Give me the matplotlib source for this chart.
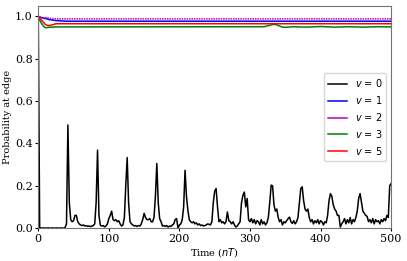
import numpy as np
import matplotlib
matplotlib.use("Agg")
import matplotlib.pyplot as plt

plt.rcParams['font.family'] = 'DejaVu Serif'
plt.rcParams['mathtext.fontset'] = 'dejavusans'

# v = 0 : probabilidade na borda (amostrada a cada 2 periodos)
t_v0 = np.arange(0, 501, 2)
p_v0 = [
    1.0, 0.0, 0.001, 0.0, 0.001, 0.0, 0.0, 0.001, 0.0, 0.0,            # 0-18
    0.001, 0.0, 0.0, 0.001, 0.0, 0.0, 0.001, 0.0, 0.0, 0.003,          # 20-38
    0.02, 0.487, 0.12, 0.04, 0.03, 0.035, 0.06, 0.06, 0.03, 0.02,      # 40-58
    0.015, 0.012, 0.015, 0.01, 0.012, 0.008, 0.01, 0.007, 0.01, 0.012, # 60-78
    0.02, 0.12, 0.368, 0.06, 0.013, 0.01, 0.012, 0.006, 0.01, 0.02,    # 80-98
    0.045, 0.06, 0.08, 0.04, 0.035, 0.04, 0.03, 0.035, 0.02, 0.01,     # 100-118
    0.015, 0.05, 0.2, 0.333, 0.12, 0.03, 0.02, 0.015, 0.01, 0.012,     # 120-138
    0.008, 0.012, 0.01, 0.02, 0.04, 0.07, 0.05, 0.04, 0.04, 0.045,     # 140-158
    0.03, 0.03, 0.05, 0.15, 0.305, 0.12, 0.045, 0.03, 0.01, 0.012,     # 160-178
    0.008, 0.012, 0.005, 0.01, 0.008, 0.015, 0.02, 0.04, 0.045, 0.0,   # 180-198
    0.015, 0.02, 0.04, 0.1, 0.273, 0.15, 0.084, 0.04, 0.03, 0.025,     # 200-218
    0.03, 0.02, 0.025, 0.015, 0.02, 0.012, 0.015, 0.01, 0.012, 0.015,  # 220-238
    0.02, 0.018, 0.015, 0.03, 0.12, 0.175, 0.187, 0.1, 0.03, 0.04,     # 240-258
    0.025, 0.03, 0.02, 0.03, 0.076, 0.035, 0.03, 0.02, 0.03, 0.015,    # 260-278
    0.005, 0.01, 0.02, 0.03, 0.12, 0.155, 0.17, 0.1, 0.14, 0.04,       # 280-298
    0.03, 0.045, 0.025, 0.04, 0.02, 0.035, 0.03, 0.015, 0.04, 0.02,    # 300-318
    0.03, 0.015, 0.025, 0.05, 0.12, 0.203, 0.2, 0.11, 0.08, 0.09,      # 320-338
    0.05, 0.03, 0.04, 0.015, 0.03, 0.025, 0.035, 0.045, 0.052, 0.03,   # 340-358
    0.022, 0.035, 0.02, 0.03, 0.05, 0.12, 0.187, 0.195, 0.13, 0.09,    # 360-378
    0.08, 0.09, 0.05, 0.03, 0.04, 0.02, 0.035, 0.025, 0.04, 0.02,      # 380-398
    0.035, 0.03, 0.015, 0.03, 0.025, 0.06, 0.13, 0.163, 0.15, 0.11,    # 400-418
    0.09, 0.08, 0.06, 0.06, 0.005, 0.02, 0.03, 0.045, 0.02, 0.04,      # 420-438
    0.025, 0.05, 0.02, 0.04, 0.03, 0.05, 0.08, 0.14, 0.163, 0.12,      # 440-458
    0.08, 0.07, 0.06, 0.055, 0.03, 0.04, 0.025, 0.045, 0.02, 0.04,     # 460-478
    0.03, 0.035, 0.02, 0.04, 0.03, 0.045, 0.035, 0.06, 0.05, 0.2,      # 480-498
    0.21,                                                              # 500
]

# v = 1, 2, 3, 5 : quase constantes perto de 1
t_v1 = [0, 4, 10, 15, 25, 40, 500]
p_v1 = [1.0, 0.995, 0.99, 0.985, 0.98, 0.977, 0.977]

t_v2 = [0, 4, 8, 12, 16, 20, 30, 500]
p_v2 = [1.0, 0.993, 0.99, 0.995, 0.99, 0.989, 0.988, 0.988]

t_v3 = [0, 3, 7, 10, 15, 25, 320, 325, 333, 338, 345, 350, 360, 380,
        400, 420, 440, 460, 480, 500]
p_v3 = [1.0, 0.975, 0.955, 0.946, 0.948, 0.95, 0.951, 0.955, 0.962, 0.96,
        0.95, 0.948, 0.951, 0.949, 0.952, 0.949, 0.951, 0.949, 0.951, 0.95]

t_v5 = [0, 5, 10, 14, 18, 25, 500]
p_v5 = [1.0, 0.98, 0.962, 0.956, 0.958, 0.965, 0.965]

fig = plt.figure(figsize=(4.07, 2.61), dpi=100)
ax = fig.add_axes([0.094, 0.126, 0.867, 0.852])

ax.plot(t_v0, p_v0, color='k', lw=1.1, label='$v$ = 0')
ax.plot(t_v1, p_v1, color='b', lw=1.1, label='$v$ = 1')
ax.plot(t_v2, p_v2, color='m', lw=1.1, ls=(0, (1, 0.6)), label='$v$ = 2')
ax.plot(t_v3, p_v3, color='g', lw=1.1, label='$v$ = 3')
ax.plot(t_v5, p_v5, color='r', lw=1.1, label='$v$ = 5')

ax.set_xlim(0, 500)
ax.set_ylim(0, 1.05)
ax.set_xticks([0, 100, 200, 300, 400, 500])
ax.set_yticks([0.0, 0.2, 0.4, 0.6, 0.8, 1.0])
ax.tick_params(labelsize=8, length=2, width=0.8, pad=2)
ax.set_xlabel('Time ($nT$)', fontsize=7, labelpad=2)
ax.set_ylabel('Probability at edge', fontsize=7, labelpad=2)
for s in ax.spines.values():
    s.set_color('0.45')

leg = ax.legend(loc='center right', prop={'family': 'DejaVu Sans', 'size': 7})
for line in leg.get_lines():
    line.set_linestyle('-')

fig.savefig('out.png', dpi=100)
